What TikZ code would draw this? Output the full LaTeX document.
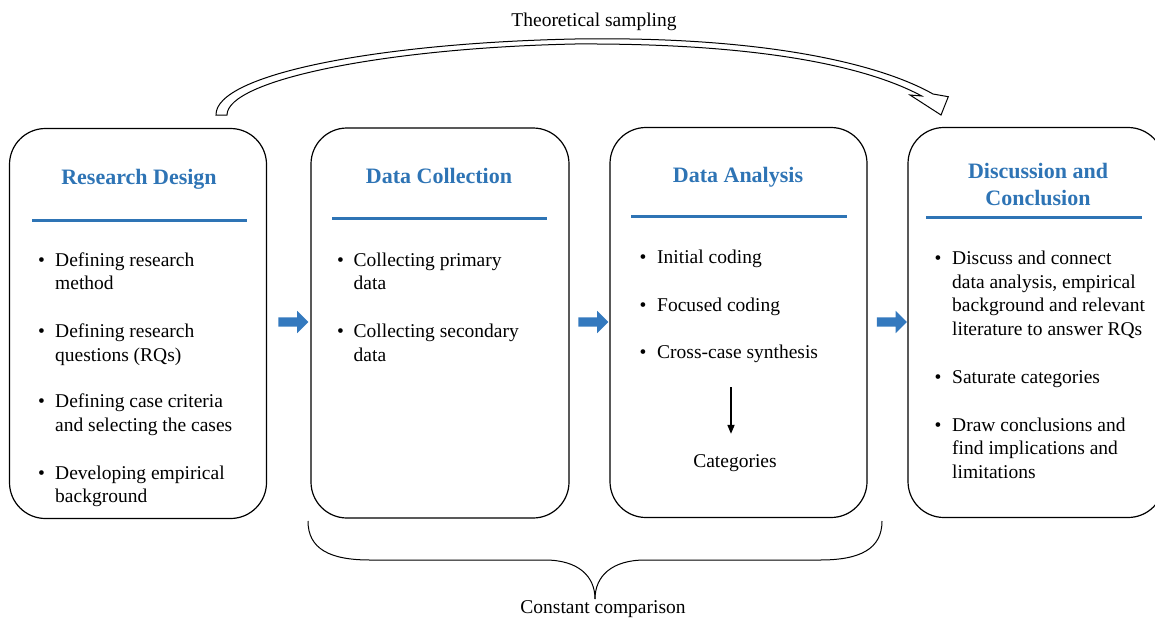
\documentclass[tikz,border=0pt]{standalone}
\usepackage{fontspec}
\setmainfont{Liberation Serif}
\usetikzlibrary{arrows.meta,shapes.arrows}
\definecolor{accent}{RGB}{46,116,181}
\definecolor{flowblue}{RGB}{52,121,190}

\begin{document}
\begin{tikzpicture}[x=1pt,y=-1pt,
  stage/.style={draw=black, line width=1.2pt, rounded corners=36pt, inner sep=0pt, minimum height=390pt},
  title/.style={font=\fontsize{22}{27}\selectfont\bfseries, text=accent, anchor=base, inner sep=0pt, yshift=-1pt},
  rule/.style={draw=accent, line width=2.6pt},
  itemtext/.style={font=\fontsize{19.5}{23.5}\selectfont, anchor=base west, inner sep=0pt, yshift=-1pt},
  dot/.style={font=\fontsize{19.5}{23.5}\selectfont, anchor=base, inner sep=0pt, yshift=-1pt},
  caption/.style={font=\fontsize{19.5}{23.5}\selectfont, anchor=base, inner sep=0pt, yshift=-1pt},
  flowarrow/.style={single arrow, fill=flowblue, draw=none, inner sep=4.5pt, minimum width=22pt,
    minimum height=30pt, single arrow head extend=6.5pt},
  outline/.style={draw=black, line width=1pt}
]
\useasboundingbox (0,0) rectangle (1155,618);

% ---------- stage boxes ----------
\node[stage, minimum width=257pt] (rd) at (138,323.5) {};
\node[stage, minimum width=258pt] (dc) at (440,323) {};
\node[stage, minimum width=257pt] (da) at (738.5,322.5) {};
\node[stage, minimum width=256pt] (dq) at (1036,322.5) {};

% ---------- titles and rules ----------
\node[title] (rdT) at (139,183) {Research Design};
\draw[rule] (32,220.5) -- (247,220.5);

\node[title] (dcT) at (439,182) {Data Collection};
\draw[rule] (332,218.3) -- (547,218.3);

\node[title] (daT) at (738,181) {Data Analysis};
\draw[rule] (631,216.7) -- (847,216.7);

\node[title] (dqT1) at (1038,177.5) {Discussion and};
\node[title] (dqT2) at (1038,204) {Conclusion};
\draw[rule] (926,217.7) -- (1142,217.7);

% ---------- Research Design items ----------
\node[dot] (rdb1) at (41.5,265) {\textbullet};
\node[itemtext] (rd1a) at (55,265) {Defining research};
\node[itemtext] (rd1b) at (55,288.5) {method};
\node[dot] (rdb2) at (41.5,336.7) {\textbullet};
\node[itemtext] (rd2a) at (55,336.7) {Defining research};
\node[itemtext] (rd2b) at (55,360) {questions (RQs)};
\node[dot] (rdb3) at (41.5,406.7) {\textbullet};
\node[itemtext] (rd3a) at (55,406.7) {Defining case criteria};
\node[itemtext] (rd3b) at (55,430) {and selecting the cases};
\node[dot] (rdb4) at (41.5,478) {\textbullet};
\node[itemtext] (rd4a) at (55,478) {Developing empirical};
\node[itemtext] (rd4b) at (55,501.5) {background};

% ---------- Data Collection items ----------
\node[dot] (dcb1) at (340.5,265) {\textbullet};
\node[itemtext] (dc1a) at (353.5,265) {Collecting primary};
\node[itemtext] (dc1b) at (353.5,288.5) {data};
\node[dot] (dcb2) at (340.5,336.7) {\textbullet};
\node[itemtext] (dc2a) at (353.5,336.7) {Collecting secondary};
\node[itemtext] (dc2b) at (353.5,360) {data};

% ---------- Data Analysis items ----------
\node[dot] (dab1) at (643,262.7) {\textbullet};
\node[itemtext] (da1) at (657,262.7) {Initial coding};
\node[dot] (dab2) at (643,310.7) {\textbullet};
\node[itemtext] (da2) at (657,310.7) {Focused coding};
\node[dot] (dab3) at (643,357.3) {\textbullet};
\node[itemtext] (da3) at (657,357.3) {Cross-case synthesis};
\node[caption] (cat) at (735,466) {Categories};
\coordinate (catFrom) at (731,387);
\draw[line width=1.6pt, -{Triangle[length=9pt,width=7pt]}, shorten >=20pt]
  (catFrom) -- (catFrom |- cat.north);

% ---------- Discussion and Conclusion items ----------
\node[dot] (dqb1) at (938,263) {\textbullet};
\node[itemtext] (dq1a) at (952,263) {Discuss and connect};
\node[itemtext] (dq1b) at (952,287) {data analysis, empirical};
\node[itemtext] (dq1c) at (952,310.5) {background and relevant};
\node[itemtext] (dq1d) at (952,334) {literature to answer RQs};
\node[dot] (dqb2) at (938,382) {\textbullet};
\node[itemtext] (dq2) at (952,382) {Saturate categories};
\node[dot] (dqb3) at (938,430) {\textbullet};
\node[itemtext] (dq3a) at (952,430) {Draw conclusions and};
\node[itemtext] (dq3b) at (952,453.5) {find implications and};
\node[itemtext] (dq3c) at (952,477) {limitations};

% ---------- flow arrows between stages ----------
\node[flowarrow] (f1) at (291,322) {};
\node[flowarrow] (f2) at (591,322) {};
\node[flowarrow] (f3) at (889.5,322) {};

% ---------- theoretical sampling loop (hollow curved arrow) ----------
\draw[outline, fill=white, line join=miter]
  (216,115) .. controls (215,74) and (380,43) .. (575,39)
  .. controls (765,36) and (880,64) .. (933,94)
  -- (948.3,96.7) -- (941,115) -- (910,95) -- (921.7,96)
  .. controls (868,67) and (762,43) .. (575,44)
  .. controls (385,48) and (227,80) .. (227,115) -- cycle;
\node[caption] (ts) at (594,26) {Theoretical sampling};

% ---------- constant comparison brace ----------
\coordinate (brL) at (308,521);
\coordinate (brR) at (882,521);
\coordinate (brTip) at (595,599);
\draw[outline, line width=1pt]
  (brL) .. controls (308,549) and (330,560) .. (370,560) -- (545,560)
  .. controls (578,560) and (595,576) .. (brTip);
\draw[outline, line width=1pt]
  (brR) .. controls (882,549) and (860,560) .. (820,560) -- (645,560)
  .. controls (612,560) and (595,576) .. (brTip);
\node[caption] (cc) at (603,612) {Constant comparison};
\end{tikzpicture}
\end{document}
